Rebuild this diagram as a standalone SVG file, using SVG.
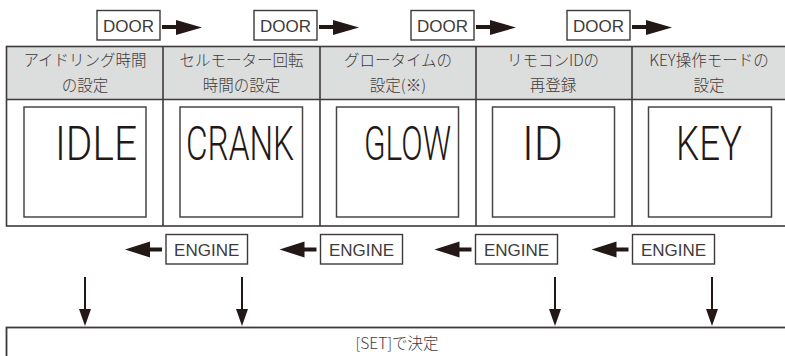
<svg xmlns="http://www.w3.org/2000/svg" width="785" height="356" viewBox="0 0 785 356">
<style>
.box{fill:#fff;stroke:#3e3a39;stroke-width:1.4}
.lbl{font-family:"Liberation Sans",Arial,sans-serif;font-size:17px;fill:#3e3a39;text-anchor:middle}
.hdr{font-family:"Noto Sans CJK JP","Noto Sans",sans-serif;font-weight:300;font-size:15.5px;fill:#3e3a39;text-anchor:middle}
.lcd{fill:#fff;stroke:#4a4645;stroke-width:1.5}
.seg{font-family:Roboto,"DejaVu Sans Mono",monospace;font-weight:300;font-size:48px;fill:#231815}
.grid{stroke:#3e3a39;stroke-width:1.6;fill:none}
.arr{fill:#231815}
.thin{stroke:#231815;stroke-width:2}
</style>
<rect width="785" height="356" fill="#fff"/>
<g id="table">
<rect x="6.5" y="46.5" width="790" height="53" fill="#dcdddd"/>
<rect x="6.5" y="46.5" width="790" height="179.5" class="grid"/>
<line x1="6.5" y1="99.5" x2="790" y2="99.5" class="grid"/>
</g>
<g id="col1">
<line x1="163" y1="46.5" x2="163" y2="226" class="grid"/>
<text class="hdr" x="85" y="66">アイドリング時間</text>
<text class="hdr" x="85" y="91">の設定</text>
<rect class="lcd" x="24" y="107" width="122" height="110"/>
<text class="seg" x="55" y="160" textLength="82" lengthAdjust="spacingAndGlyphs">IDLE</text>
</g>
<g id="col2">
<line x1="320" y1="46.5" x2="320" y2="226" class="grid"/>
<text class="hdr" x="241.5" y="66">セルモーター回転</text>
<text class="hdr" x="241.5" y="91">時間の設定</text>
<rect class="lcd" x="180" y="107" width="122.5" height="110"/>
<text class="seg" x="186" y="160" textLength="108" lengthAdjust="spacingAndGlyphs">CRANK</text>
</g>
<g id="col3">
<line x1="476" y1="46.5" x2="476" y2="226" class="grid"/>
<text class="hdr" x="398" y="66">グロータイムの</text>
<text class="hdr" x="398" y="91">設定(※)</text>
<rect class="lcd" x="336.5" y="107" width="122" height="110"/>
<text class="seg" x="364" y="160" textLength="87" lengthAdjust="spacingAndGlyphs">GLOW</text>
</g>
<g id="col4">
<line x1="632" y1="46.5" x2="632" y2="226" class="grid"/>
<text class="hdr" x="553" y="66">リモコンIDの</text>
<text class="hdr" x="553" y="91">再登録</text>
<rect class="lcd" x="492.5" y="107" width="122" height="110"/>
<text class="seg" x="522" y="160" textLength="41" lengthAdjust="spacingAndGlyphs">ID</text>
</g>
<g id="col5">
<text class="hdr" x="709" y="66">KEY操作モードの</text>
<text class="hdr" x="709" y="91">設定</text>
<rect class="lcd" x="648.5" y="107" width="123" height="110"/>
<text class="seg" x="676" y="160" textLength="66" lengthAdjust="spacingAndGlyphs">KEY</text>
</g>
<g id="door1"><rect class="box" x="97" y="10.5" width="63" height="29.5"/><text class="lbl" x="128.5" y="31.5">DOOR</text></g>
<g id="door2"><rect class="box" x="254" y="10.5" width="63" height="29.5"/><text class="lbl" x="285.5" y="31.5">DOOR</text></g>
<g id="door3"><rect class="box" x="411" y="10.5" width="63" height="29.5"/><text class="lbl" x="442.5" y="31.5">DOOR</text></g>
<g id="door4"><rect class="box" x="567" y="10.5" width="63" height="29.5"/><text class="lbl" x="598.5" y="31.5">DOOR</text></g>
<g id="engine1"><rect class="box" x="166" y="234.5" width="81.5" height="29.5"/><text class="lbl" x="206.7" y="255.5">ENGINE</text></g>
<g id="engine2"><rect class="box" x="320.5" y="234.5" width="82" height="29.5"/><text class="lbl" x="361.5" y="255.5">ENGINE</text></g>
<g id="engine3"><rect class="box" x="475.5" y="234.5" width="82" height="29.5"/><text class="lbl" x="516.5" y="255.5">ENGINE</text></g>
<g id="engine4"><rect class="box" x="632.5" y="234.5" width="82" height="29.5"/><text class="lbl" x="673.5" y="255.5">ENGINE</text></g>
<g id="set">
<rect x="6.5" y="327.5" width="790" height="40" fill="#fff" stroke="#3e3a39" stroke-width="1.8"/>
<text class="hdr" x="397" y="349" font-size="15">[SET]で決定</text>
</g>
<g id="connectors">
<path class="arr" d="M162 25 H176 V20 L202 27.5 L176 35 V29 H162 Z"/>
<path class="arr" d="M319 25 H333 V20 L359 27.5 L333 35 V29 H319 Z"/>
<path class="arr" d="M476 25 H490 V20 L516 27.5 L490 35 V29 H476 Z"/>
<path class="arr" d="M632 25 H646 V20 L672 27.5 L646 35 V29 H632 Z"/>
<path class="arr" d="M125 249.5 L150 241.5 V247.5 H162 V251.5 H150 V257.5 Z"/>
<path class="arr" d="M279.5 249.5 L304.5 241.5 V247.5 H316.5 V251.5 H304.5 V257.5 Z"/>
<path class="arr" d="M434.5 249.5 L459.5 241.5 V247.5 H471.5 V251.5 H459.5 V257.5 Z"/>
<path class="arr" d="M591.5 249.5 L616.5 241.5 V247.5 H628.5 V251.5 H616.5 V257.5 Z"/>
<line class="thin" x1="85" y1="277" x2="85" y2="311"/><polygon class="arr" points="79,309 91,309 85,326"/>
<line class="thin" x1="242" y1="277" x2="242" y2="311"/><polygon class="arr" points="236,309 248,309 242,326"/>
<line class="thin" x1="555" y1="277" x2="555" y2="311"/><polygon class="arr" points="549,309 561,309 555,326"/>
<line class="thin" x1="712" y1="277" x2="712" y2="311"/><polygon class="arr" points="706,309 718,309 712,326"/>
</g>
</svg>
